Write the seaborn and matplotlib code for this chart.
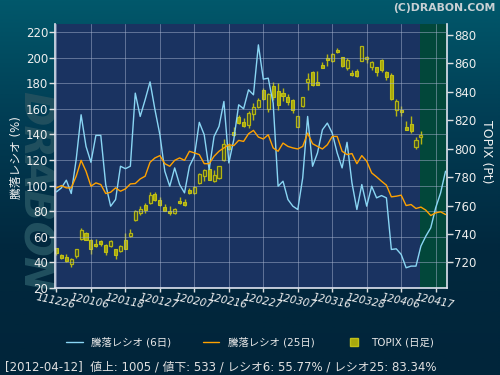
import numpy as np
import pandas as pd
import matplotlib
matplotlib.use('Agg')
import matplotlib.pyplot as plt
from matplotlib.lines import Line2D
from matplotlib.colors import LinearSegmentedColormap
import seaborn as sns

sns.set_style('dark')
plt.rcParams['font.family'] = ['DejaVu Sans', 'Noto Sans CJK JP']

# tick labels every 7 trading days
tick_labels = ['111226', '120106', '120118', '120127', '120207', '120216',
               '120227', '120307', '120316', '120328', '120406', '120417']

# TOPIX daily candles
topix_open = [730.3, 724.9, 723.7, 718.6, 724.4, 736.6, 740.8, 735.6, 733.3, 734.9,
              732.1, 731.4, 729.1, 727.9, 735.6, 738.5, 750.1, 754.8, 760.7, 761.8,
              768.4, 764.2, 758.8, 756.5, 754.8, 763.5, 762.3, 770.7, 768.9, 775.9,
              781.0, 785.7, 777.0, 779.4, 791.8, 802.0, 811.7, 822.0, 818.5, 816.8,
              824.5, 829.2, 841.4, 827.8, 844.2, 840.7, 839.5, 836.2, 833.9, 815.6,
              829.7, 847.0, 854.2, 847.0, 858.9, 863.6, 862.0, 869.4, 864.3, 856.6,
              853.5, 854.9, 861.9, 862.8, 857.7, 857.3, 862.4, 854.2, 851.9, 826.9,
              826.9, 815.6, 817.5, 801.1, 808.2]
topix_high = [730.3, 725.6, 725.6, 723.2, 729.6, 744.3, 741.3, 736.6, 736.6, 736.1,
              732.6, 736.1, 729.6, 731.9, 740.8, 743.6, 757.2, 759.5, 761.8, 769.3,
              769.3, 766.1, 761.4, 759.5, 758.3, 766.1, 764.9, 772.4, 773.5, 782.9,
              785.7, 787.6, 784.8, 788.0, 806.8, 803.9, 815.6, 823.8, 821.5, 826.2,
              832.0, 835.5, 842.5, 839.5, 847.2, 846.1, 842.5, 838.6, 834.8, 823.3,
              836.2, 853.1, 854.9, 854.9, 861.3, 866.6, 867.1, 871.1, 864.8, 863.6,
              855.4, 855.9, 872.3, 865.2, 862.0, 857.7, 862.9, 854.9, 853.1, 834.8,
              830.2, 819.2, 822.7, 808.2, 812.1]
topix_low = [725.5, 722.5, 720.4, 716.9, 723.2, 736.1, 735.6, 725.6, 731.0, 731.4,
             725.1, 731.0, 722.5, 727.5, 729.1, 738.0, 749.0, 753.7, 754.8, 761.4,
             763.0, 760.0, 756.0, 753.7, 754.4, 761.4, 759.5, 768.2, 768.4, 775.4,
             777.0, 777.8, 776.6, 778.7, 791.1, 798.8, 809.1, 817.5, 815.6, 814.5,
             820.3, 828.5, 834.4, 825.5, 834.4, 827.3, 833.2, 830.9, 825.0, 815.2,
             829.2, 841.4, 844.4, 844.6, 856.6, 858.5, 861.3, 867.1, 857.7, 855.4,
             851.2, 850.7, 861.5, 860.1, 855.0, 851.2, 854.2, 848.4, 834.4, 823.1,
             823.1, 812.8, 811.0, 799.7, 803.5]
topix_close = [726.3, 723.0, 720.9, 722.1, 729.1, 743.1, 736.1, 729.1, 731.4, 732.6,
               727.2, 734.9, 725.1, 731.4, 729.6, 740.8, 756.0, 757.6, 757.2, 767.7,
               764.2, 760.7, 756.5, 754.8, 757.9, 761.8, 760.2, 768.9, 773.1, 782.4,
               784.8, 778.2, 781.7, 787.6, 803.5, 799.7, 809.8, 818.0, 816.1, 825.0,
               829.2, 834.4, 834.8, 838.6, 836.2, 830.9, 837.2, 832.5, 826.9, 823.1,
               836.2, 848.9, 844.9, 845.1, 857.0, 862.4, 866.6, 867.8, 858.2, 862.4,
               851.9, 851.4, 872.3, 864.8, 861.3, 854.2, 855.4, 850.3, 835.1, 833.2,
               825.5, 813.3, 812.1, 806.3, 809.8]

# advance/decline ratios (%)
ratio6 = [95.1, 98.2, 104.2, 93.8, 120.3, 155.3, 130.6, 118.2, 139.2, 139.2,
          100.8, 83.9, 89.1, 115.1, 113.2, 115.1, 172.2, 154.0, 167.0, 181.0,
          159.2, 139.7, 111.2, 99.5, 113.8, 100.8, 94.3, 115.1, 122.9, 149.4,
          139.7, 112.5, 138.4, 146.2, 165.7, 117.7, 135.8, 163.1, 160.0, 174.8,
          170.9, 209.9, 183.1, 183.9, 164.4, 99.5, 103.4, 89.1, 83.9, 81.3,
          106.0, 154.0, 115.1, 125.5, 143.6, 148.8, 141.0, 125.5, 113.8, 133.8,
          102.1, 81.3, 100.8, 83.9, 99.5, 90.4, 92.2, 90.4, 50.1, 50.6,
          46.2, 35.8, 37.1, 37.1, 52.7, 60.5, 67.0, 82.6, 94.3, 111.2]
ratio25 = [98.2, 100.0, 98.2, 98.2, 107.3, 119.7, 111.2, 99.5, 102.1, 100.8,
           93.8, 94.8, 98.2, 95.6, 97.4, 101.3, 101.6, 105.2, 107.3, 118.2,
           121.6, 123.4, 117.1, 115.1, 119.7, 121.6, 119.7, 126.8, 125.5, 124.2,
           117.1, 117.1, 122.9, 126.8, 129.4, 131.9, 131.2, 135.3, 134.5, 140.5,
           143.1, 137.9, 136.4, 139.7, 129.4, 126.8, 133.2, 130.6, 129.4, 128.6,
           130.6, 141.0, 132.7, 130.6, 128.6, 131.9, 138.4, 138.4, 126.8, 124.2,
           125.0, 117.1, 123.4, 119.0, 109.9, 106.8, 103.4, 100.3, 91.2, 91.7,
           92.5, 84.4, 85.2, 82.1, 83.2, 80.8, 76.6, 78.7, 79.5, 77.4]

candles = pd.DataFrame({'open': topix_open, 'high': topix_high,
                        'low': topix_low, 'close': topix_close})
candles['day'] = np.arange(len(candles))
lines = pd.DataFrame({'day': np.arange(len(ratio6)), 'r6': ratio6, 'r25': ratio25})

fig = plt.figure(figsize=(5, 3.75), dpi=100)

# background gradient
bg = fig.add_axes([0, 0, 1, 1], zorder=-10)
cmap = LinearSegmentedColormap.from_list('bg', ['#01586b', '#013c53', '#01283e', '#01253a'])
grad = np.linspace(0, 1, 256).reshape(-1, 1)
bg.imshow(grad, aspect='auto', cmap=cmap, extent=[0, 1, 0, 1])
bg.axis('off')

# faint watermark on the left, behind the axes
fig.text(0.07, 0.49, 'DRABON', rotation=-90, fontsize=30, fontweight='bold',
         fontstyle='italic', color='#21505f', ha='center', va='center', zorder=-5)

rect = [0.11, 0.232, 0.784, 0.704]
ax2 = fig.add_axes(rect, zorder=1)
ax = fig.add_axes(rect, zorder=2, sharex=ax2)
ax.patch.set_visible(False)
ax2.set_facecolor('#1a3361')
ax2.yaxis.tick_right()
ax2.yaxis.set_label_position('right')

xmin, xmax = -0.3, 79.3
ax2.axvspan(73.9, xmax, color='#02473a', zorder=0, lw=0)

# candles
up = candles['close'] >= candles['open']
body_bottom = candles[['open', 'close']].min(axis=1)
body_h = (candles['close'] - candles['open']).abs().clip(lower=1.0)
ax2.vlines(candles['day'], candles['low'], candles['high'], color='#b5b512', lw=1, zorder=2)
ax2.bar(candles['day'][~up], body_h[~up], bottom=body_bottom[~up], width=0.62,
        color='#a8a80c', edgecolor='#c0c018', lw=0.8, zorder=3)
ax2.bar(candles['day'][up], body_h[up], bottom=body_bottom[up], width=0.62,
        color='#3a4a30', edgecolor='#b5b512', lw=0.9, zorder=3)
ax2.set_ylim(702, 887.7)
ax2.set_yticks(np.arange(720, 881, 20))

# ratio lines
sns.lineplot(data=lines, x='day', y='r6', ax=ax, color='#8ad6f4', lw=1.0)
sns.lineplot(data=lines, x='day', y='r25', ax=ax, color='#ffa200', lw=1.0)
ax.set_ylim(20, 226.2)
ax.set_yticks(np.arange(20, 221, 20))
ax.set_xlim(xmin, xmax)
ax.set_xticks(np.arange(0, 78, 7))
ax.set_xticklabels(tick_labels, rotation=-12, ha='center', rotation_mode='anchor',
                   fontsize=7.5, fontstyle='italic', color='#f0f0f0')
ax.grid(True, color='#a8b4d0', alpha=0.5, lw=0.7)
ax2.grid(False)
ax.set_xlabel('')
ax.set_ylabel('')
ax2.set_xlabel('')

for a in (ax, ax2):
    for s in a.spines.values():
        s.set_visible(False)
ax.spines['left'].set_visible(True)
ax.spines['bottom'].set_visible(True)
ax2.spines['right'].set_visible(True)
for s in ('left', 'bottom'):
    ax.spines[s].set_color('#e0e4f0')
    ax.spines[s].set_linewidth(1.2)
ax2.spines['right'].set_color('#e0e4f0')
ax2.spines['right'].set_linewidth(1.2)

ax.tick_params(axis='y', left=True, length=4, width=1, color='#e0e0e0',
               labelcolor='#eeeeee', labelsize=8.5, pad=1)
ax.tick_params(axis='x', bottom=True, length=3, width=1, color='#e0e0e0', pad=3)
ax2.tick_params(axis='y', right=True, length=4, width=1, color='#e0e0e0',
                labelcolor='#eeeeee', labelsize=8.5, pad=1)
ax2.tick_params(axis='x', bottom=False, labelbottom=False)

fig.text(0.033, 0.58, '騰落レシオ (%)', rotation=90, fontsize=8.5, color='#f0f0f0',
         ha='center', va='center')
fig.text(0.972, 0.594, 'TOPIX (Pt)', rotation=-90, fontsize=9, color='#f0f0f0',
         ha='center', va='center')
fig.text(0.992, 0.978, '(C)DRABON.COM', fontsize=7.8, fontweight='bold', color='#c8d0d4',
         ha='right', va='center')

handles = [Line2D([], [], color='#8ad6f4', lw=1.0),
           Line2D([], [], color='#ffa200', lw=1.0),
           Line2D([], [], color='#a8a80c', marker='s', markersize=6, lw=0,
                  markeredgecolor='#c0c018')]
fig.legend(handles, ['騰落レシオ (6日)', '騰落レシオ (25日)', 'TOPIX (日足)'],
           loc='center', bbox_to_anchor=(0.5, 0.088), ncol=3, frameon=False,
           fontsize=7.5, labelcolor='#e8e8e8', handlelength=1.6, columnspacing=3.0)

fig.text(0.01, 0.02, '[2012-04-12]  値上: 1005 / 値下: 533 / レシオ6: 55.77% / レシオ25: 83.34%',
         fontsize=8.5, color='#e0e0e0', ha='left', va='center')

fig.savefig('out.png', dpi=100)
